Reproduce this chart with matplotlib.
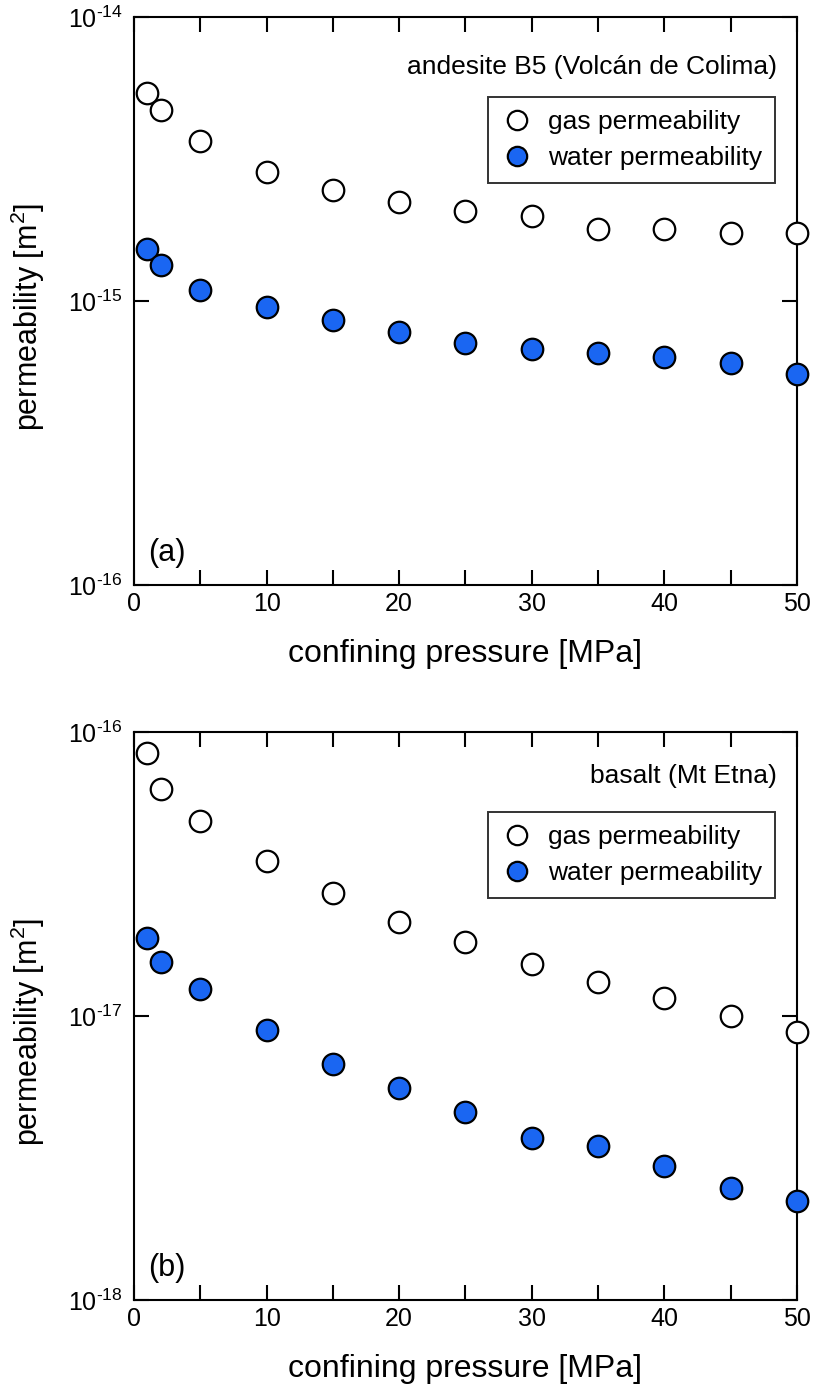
import matplotlib
matplotlib.use("Agg")
import matplotlib.pyplot as plt
from matplotlib.ticker import FixedLocator, NullLocator, FuncFormatter
import numpy as np

plt.rcParams['font.family'] = ['Liberation Sans', 'DejaVu Sans']
plt.rcParams['mathtext.fontset'] = 'custom'
plt.rcParams['mathtext.rm'] = 'Liberation Sans'
plt.rcParams['mathtext.it'] = 'Liberation Sans'

pressure = [1, 2, 5, 10, 15, 20, 25, 30, 35, 40, 45, 50]

# (a) andesite B5
gas_a = [5.4e-15, 4.7e-15, 3.66e-15, 2.84e-15, 2.46e-15, 2.23e-15,
         2.07e-15, 1.99e-15, 1.79e-15, 1.79e-15, 1.74e-15, 1.74e-15]
water_a = [1.52e-15, 1.34e-15, 1.09e-15, 9.5e-16, 8.6e-16, 7.8e-16,
           7.1e-16, 6.8e-16, 6.56e-16, 6.35e-16, 6.05e-16, 5.53e-16]

# (b) basalt
gas_b = [8.43e-17, 6.3e-17, 4.86e-17, 3.51e-17, 2.71e-17, 2.14e-17,
         1.82e-17, 1.52e-17, 1.32e-17, 1.16e-17, 1.0e-17, 8.8e-18]
water_b = [1.88e-17, 1.55e-17, 1.245e-17, 8.93e-18, 6.78e-18, 5.57e-18,
           4.59e-18, 3.72e-18, 3.48e-18, 2.96e-18, 2.48e-18, 2.23e-18]

panels = [
    dict(gas=gas_a, water=water_a, decades=[-16, -15, -14],
         rock="andesite B5 (Volcán de Colima)", rock_y=0.912, tag="(a)"),
    dict(gas=gas_b, water=water_b, decades=[-18, -17, -16],
         rock="basalt (Mt Etna)", rock_y=0.923, tag="(b)"),
]

blue = '#1a66f2'


def dec_label(v, pos):
    e = int(round(np.log10(v)))
    return r'$\mathregular{10^{\text{%d}}}$' % e


fig = plt.figure(figsize=(8.14, 13.93), dpi=100)
bottoms = [0.580, 0.0668]

for p, b in zip(panels, bottoms):
    ax = fig.add_axes([0.1646, b, 0.8145, 0.4078])
    ax.set_yscale('log')
    ax.plot(pressure, p['gas'], 'o', ms=15.5, mfc='white', mec='black',
            mew=1.6, clip_on=False, label='gas permeability', zorder=3)
    ax.plot(pressure, p['water'], 'o', ms=15.5, mfc=blue, mec='black',
            mew=1.6, clip_on=False, label='water permeability', zorder=3)
    ax.set_xlim(0, 50)
    ax.set_ylim(10.0 ** p['decades'][0], 10.0 ** p['decades'][-1])
    ax.set_xticks(range(0, 51, 10))
    ax.set_xticks(range(5, 50, 10), minor=True)
    ax.yaxis.set_major_locator(FixedLocator([10.0 ** d for d in p['decades']]))
    ax.yaxis.set_minor_locator(NullLocator())
    ax.yaxis.set_major_formatter(FuncFormatter(dec_label))
    for s in ax.spines.values():
        s.set_linewidth(1.5)
    ax.tick_params(which='both', direction='in', top=True, right=True,
                   length=11, width=1.5, labelsize=18)
    ax.tick_params(axis='x', pad=5)
    ax.tick_params(axis='y', pad=8)
    ax.set_xlabel('confining pressure [MPa]', fontsize=23, va='top')
    ax.xaxis.set_label_coords(0.5, -0.095)
    ax.set_ylabel('permeability [m$^2$]', fontsize=22)
    ax.yaxis.set_label_coords(-0.131, 0.472)
    ax.text(0.970, p['rock_y'], p['rock'], transform=ax.transAxes,
            ha='right', va='center', fontsize=19)
    ax.text(0.022, 0.03, p['tag'], transform=ax.transAxes, ha='left',
            va='bottom', fontsize=22)
    leg = ax.legend(loc='upper right', bbox_to_anchor=(0.967, 0.859),
                    borderaxespad=0, fontsize=19, frameon=True,
                    fancybox=False, handletextpad=0.55, borderpad=0.5,
                    labelspacing=0.45, handlelength=1.2, markerscale=0.9)
    leg.get_frame().set_edgecolor('black')
    leg.get_frame().set_linewidth(1.4)

fig.savefig('out.png', dpi=100)
